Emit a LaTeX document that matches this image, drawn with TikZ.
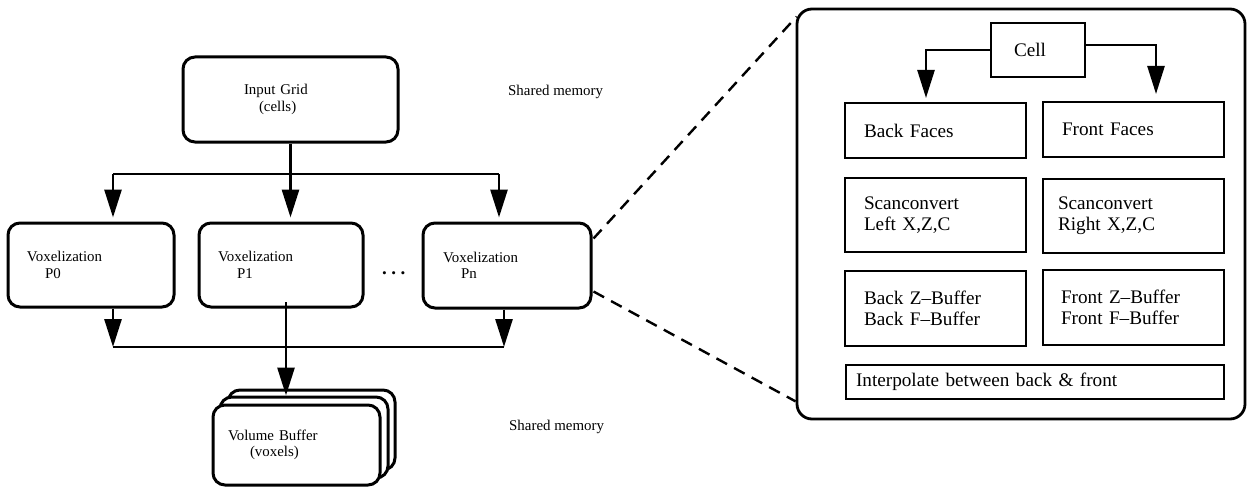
\documentclass[tikz,border=0pt]{standalone}
\usepackage{fontspec}
\setmainfont{Liberation Serif}
\usetikzlibrary{arrows.meta, positioning, calc}
\tikzset{
  leftfont/.style={font=\fontsize{14.9pt}{16.6pt}\selectfont},
  rightfont/.style={font=\fontsize{19.2pt}{20.8pt}\selectfont},
  procblock/.style={
    rectangle, rounded corners=12pt, draw=black, line width=3pt,
    fill=white, align=left, inner sep=0pt, leftfont
  },
  stageblock/.style={
    rectangle, draw=black, line width=2.6pt,
    align=left, inner sep=0pt, rightfont
  },
  panelbox/.style={
    rectangle, rounded corners=15pt, draw=black, line width=2.8pt
  },
  flowline/.style={
    draw=black, line width=2.8pt, -{Triangle[length=28pt, width=17pt]}
  },
  cellflow/.style={
    draw=black, line width=2.5pt, -{Triangle[length=28pt, width=17pt]}
  },
  busline/.style={draw=black, line width=2.8pt},
  zoomline/.style={draw=black, line width=2.4pt, dash pattern=on 12pt off 8pt}
}

\begin{document}
\begin{tikzpicture}[x=1pt, y=-1pt]
  \useasboundingbox (0,0) rectangle (1248,487);

  % Shared input grid
  \node[procblock, minimum width=215pt, minimum height=85pt, text width=93pt] (grid) at (290.5,99.5)
    {Input Grid\\\hspace*{15pt}(cells)};
  \node[anchor=west, inner sep=0pt, leftfont] (memtop) at (508,92) {Shared memory};

  % Row of voxelization processes
  \node[procblock, minimum width=166pt, minimum height=84pt, text width=128pt] (p0) at (91,265)
    {Voxelization\\\hspace*{18pt}P0};
  \node[procblock, minimum width=164pt, minimum height=84pt, text width=126pt] (p1) at (281,265)
    {Voxelization\\\hspace*{19pt}P1};
  \node[procblock, minimum width=168pt, minimum height=85pt, text width=128pt] (pn) at (507,265.5)
    {Voxelization\\\hspace*{18pt}Pn\\[5pt]};
  \node[anchor=base west, inner sep=0pt, font=\fontsize{19pt}{20pt}\selectfont\bfseries] (dots) at (382,274)
    {.\hspace{4.5pt}.\hspace{4.5pt}.};

  % Fan-out from the grid
  \coordinate (bl) at (113,174);
  \coordinate (br) at (499,174);
  \draw[busline] (bl) -- (br);
  \draw[flowline, shorten >=4pt] (grid.south) -- (grid.south |- p1.north);
  \draw[flowline, shorten >=4pt] (bl) -- (bl |- p0.north);
  \draw[flowline, shorten >=4pt] (br) -- (br |- pn.north);

  % Stacked volume buffer (back to front)
  \node[procblock, minimum width=167pt, minimum height=80pt] (vbufback) at (311.5,430) {};
  \node[procblock, minimum width=168pt, minimum height=81pt] (vbufmid) at (304,437.5) {};
  \node[procblock, minimum width=167pt, minimum height=80pt, text width=137pt] (vbuf) at (296.5,445)
    {Volume Buffer\\\hspace*{22pt}(voxels)\\[6pt]};
  \node[anchor=west, inner sep=0pt, leftfont] (membot) at (509,427) {Shared memory};

  % Fan-in to the volume buffer
  \coordinate (jl) at (113,347);
  \coordinate (jr) at (504,347);
  \coordinate (p1out) at (286,302);
  \draw[flowline] (p0.south -| jl) -- (jl);
  \draw[flowline] (pn.south -| jr) -- (jr);
  \draw[busline] (jl) -- (jr);
  \draw[flowline] (p1out) -- (p1out |- vbufmid.north);

  % Detail panel for one processor
  \node[panelbox, minimum width=448pt, minimum height=410pt] (panel) at (1021,214) {};
  \draw[zoomline] ($(pn.north east)+(1,17)$) -- ($(panel.north west)+(1,9)$);
  \draw[zoomline] ($(pn.south east)+(1,-18)$) -- ($(panel.south west)+(0,-19)$);

  \node[stageblock, minimum width=94pt, minimum height=54pt, text width=48pt] (cell) at (1038,50) {Cell\\[4pt]};

  \node[stageblock, minimum width=181pt, minimum height=55pt, text width=143pt] (backfaces) at (935.5,130.5)
    {Back Faces};
  \node[stageblock, minimum width=181pt, minimum height=55pt, text width=143pt] (frontfaces) at (1133.5,129.5)
    {Front Faces};

  \node[stageblock, minimum width=181pt, minimum height=74pt, text width=143pt] (scanleft) at (935.5,215)
    {Scanconvert\\Left X,Z,C\\[10pt]};
  \node[stageblock, minimum width=181pt, minimum height=74pt, text width=151pt] (scanright) at (1133.5,216)
    {Scanconvert\\Right X,Z,C\\[10pt]};

  \node[stageblock, minimum width=181pt, minimum height=75pt, text width=143pt] (zbufleft) at (935.5,308.5)
    {Back Z--Buffer\\Back F--Buffer\\[6pt]};
  \node[stageblock, minimum width=181pt, minimum height=75pt, text width=145pt] (zbufright) at (1133.5,307.5)
    {Front Z--Buffer\\Front F--Buffer\\[6pt]};

  \node[stageblock, minimum width=378pt, minimum height=34pt, text width=358pt] (interp) at (1035,382)
    {Interpolate between back \& front};

  % Cell split into the two face sets
  \coordinate (bfin) at (926,98);
  \coordinate (ffin) at (1156,94);
  \draw[cellflow] (cell.west) -| (bfin);
  \draw[cellflow] ($(cell.east)+(0,-5)$) -| (ffin);
\end{tikzpicture}
\end{document}
